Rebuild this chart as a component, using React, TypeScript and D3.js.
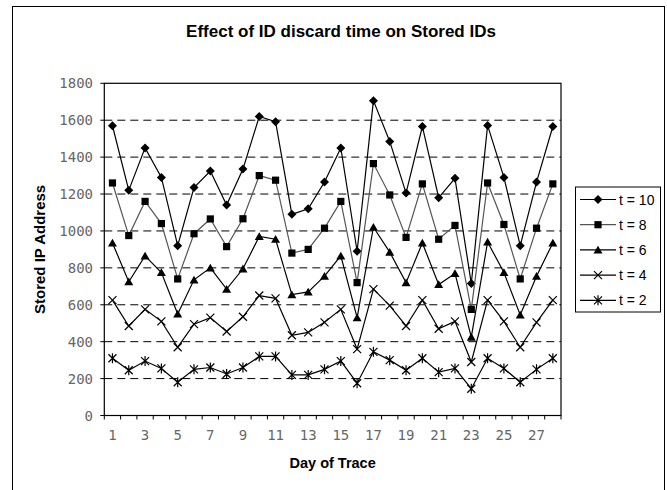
import { useEffect, useRef } from 'react'
import * as d3 from 'd3'

const days = d3.range(1, 29)
const yTicks = [0, 200, 400, 600, 800, 1000, 1200, 1400, 1600, 1800]
const seriesNames = ['t = 10', 't = 8', 't = 6', 't = 4', 't = 2']

const t10 = [1570, 1220, 1450, 1290, 920, 1235, 1325, 1140, 1335, 1620, 1592, 1090, 1120, 1265,
  1450, 890, 1706, 1485, 1205, 1566, 1180, 1285, 715, 1572, 1290, 920, 1265, 1566]
const t8 = [1260, 975, 1160, 1040, 740, 985, 1065, 915, 1066, 1300, 1275, 880, 900, 1015,
  1160, 720, 1365, 1195, 965, 1255, 955, 1030, 575, 1260, 1035, 740, 1015, 1255]
const t6 = [935, 725, 865, 775, 550, 735, 800, 685, 795, 970, 955, 655, 670, 755,
  865, 530, 1020, 885, 720, 935, 710, 770, 425, 940, 775, 545, 755, 935]
const t4 = [625, 485, 575, 510, 370, 495, 530, 455, 535, 650, 635, 435, 450, 505,
  575, 360, 685, 595, 485, 625, 470, 510, 290, 625, 510, 370, 505, 625]
const t2 = [310, 245, 295, 255, 180, 250, 260, 225, 260, 320, 320, 220, 220, 250,
  295, 175, 345, 300, 245, 310, 235, 255, 145, 310, 255, 180, 250, 310]

const seriesValues = [t10, t8, t6, t4, t2]
const lineColors = ['#000', '#555', '#000', '#000', '#000']

// marker shapes, drawn around the point
const markers = [
  { d: 'M0,-4.5L4.5,0L0,4.5L-4.5,0Z', fill: '#000', stroke: 'none' },
  { d: 'M-3.6,-3.6H3.6V3.6H-3.6Z', fill: '#000', stroke: 'none' },
  { d: 'M0,-4.2L4.5,3.6H-4.5Z', fill: '#000', stroke: 'none' },
  { d: 'M-4,-4L4,4M-4,4L4,-4', fill: 'none', stroke: '#000' },
  { d: 'M-4,-4L4,4M-4,4L4,-4M0,-5V5', fill: 'none', stroke: '#000' },
]

const W = 667
const H = 490

export default function App() {
  const svgRef = useRef<SVGSVGElement>(null)

  useEffect(() => {
    if (!svgRef.current) return
    const svg = d3.select(svgRef.current)
    svg.selectAll('*').remove()

    const plot = { left: 104.3, right: 561, top: 83.3, bottom: 415.5 }

    const x = d3.scaleBand<number>()
      .domain(days)
      .range([plot.left, plot.right])
      .padding(0)
    const y = d3.scaleLinear()
      .domain([0, 1800])
      .range([plot.bottom, plot.top])
    const cx = (d: number) => (x(d) ?? 0) + x.bandwidth() / 2

    // outer chart frame
    svg.append('rect')
      .attr('x', 12.5).attr('y', 6.5)
      .attr('width', 652).attr('height', 520)
      .attr('fill', '#fff')
      .attr('stroke', '#000')
      .attr('stroke-width', 1)

    svg.append('text')
      .attr('x', 341)
      .attr('y', 36.5)
      .attr('text-anchor', 'middle')
      .attr('font-family', 'Liberation Sans, Arial, sans-serif')
      .attr('font-weight', 'bold')
      .attr('font-size', '17px')
      .text('Effect of ID discard time on Stored IDs')

    // gridlines
    svg.append('g')
      .selectAll('line')
      .data(yTicks.filter(v => v > 0 && v < 1800))
      .enter()
      .append('line')
      .attr('x1', plot.left).attr('x2', plot.right)
      .attr('y1', d => y(d)).attr('y2', d => y(d))
      .attr('stroke', '#000')
      .attr('stroke-width', 1)
      .attr('stroke-dasharray', '8,5')

    // plot border
    svg.append('rect')
      .attr('x', plot.left).attr('y', plot.top)
      .attr('width', plot.right - plot.left)
      .attr('height', plot.bottom - plot.top)
      .attr('fill', 'none')
      .attr('stroke', '#000')
      .attr('stroke-width', 1.2)

    // y axis
    const yAxis = svg.append('g')
    yAxis.selectAll('line')
      .data(yTicks)
      .enter()
      .append('line')
      .attr('x1', plot.left - 4).attr('x2', plot.left)
      .attr('y1', d => y(d)).attr('y2', d => y(d))
      .attr('stroke', '#000')
    yAxis.selectAll('text')
      .data(yTicks)
      .enter()
      .append('text')
      .attr('x', 93)
      .attr('y', d => y(d))
      .attr('dy', '0.36em')
      .attr('text-anchor', 'end')
      .attr('font-family', 'DejaVu Sans Mono, monospace')
      .attr('font-size', '14px')
      .attr('fill', '#666')
      .text(d => String(d))

    // x axis
    const xAxis = svg.append('g')
    xAxis.selectAll('line')
      .data(d3.range(days.length + 1))
      .enter()
      .append('line')
      .attr('x1', i => plot.left + i * x.bandwidth())
      .attr('x2', i => plot.left + i * x.bandwidth())
      .attr('y1', plot.bottom).attr('y2', plot.bottom + 4)
      .attr('stroke', '#000')
    xAxis.selectAll('text')
      .data(days.filter(d => d % 2 === 1))
      .enter()
      .append('text')
      .attr('x', d => cx(d))
      .attr('y', 440)
      .attr('text-anchor', 'middle')
      .attr('font-family', 'DejaVu Sans Mono, monospace')
      .attr('font-size', '14px')
      .attr('fill', '#666')
      .text(d => String(d))

    svg.append('text')
      .attr('x', (plot.left + plot.right) / 2)
      .attr('y', 468)
      .attr('text-anchor', 'middle')
      .attr('font-family', 'Liberation Sans, Arial, sans-serif')
      .attr('font-weight', 'bold')
      .attr('font-size', '14.5px')
      .text('Day of Trace')

    svg.append('text')
      .attr('transform', `translate(45,${(plot.top + plot.bottom) / 2}) rotate(-90)`)
      .attr('text-anchor', 'middle')
      .attr('font-family', 'Liberation Sans, Arial, sans-serif')
      .attr('font-weight', 'bold')
      .attr('font-size', '15px')
      .text('Stored IP Address')

    // series lines and markers
    const line = d3.line<number>()
      .x((_, i) => cx(days[i]))
      .y(v => y(v))

    seriesValues.forEach((vals, s) => {
      svg.append('path')
        .datum(vals)
        .attr('d', line)
        .attr('fill', 'none')
        .attr('stroke', lineColors[s])
        .attr('stroke-width', 1.2)

      svg.append('g')
        .selectAll('path')
        .data(vals)
        .enter()
        .append('path')
        .attr('transform', (v, i) => `translate(${cx(days[i])},${y(v)})`)
        .attr('d', markers[s].d)
        .attr('fill', markers[s].fill)
        .attr('stroke', markers[s].stroke)
        .attr('stroke-width', 1.2)
    })

    // legend
    const legend = svg.append('g')
    legend.append('rect')
      .attr('x', 575.5).attr('y', 187)
      .attr('width', 85).attr('height', 125)
      .attr('fill', '#fff')
      .attr('stroke', '#000')
      .attr('stroke-width', 1)

    seriesNames.forEach((name, s) => {
      const ly = 199.5 + s * 25.2
      legend.append('line')
        .attr('x1', 580).attr('x2', 616)
        .attr('y1', ly).attr('y2', ly)
        .attr('stroke', lineColors[s])
        .attr('stroke-width', 1.2)
      legend.append('path')
        .attr('transform', `translate(598,${ly})`)
        .attr('d', markers[s].d)
        .attr('fill', markers[s].fill)
        .attr('stroke', markers[s].stroke)
        .attr('stroke-width', 1.2)
      legend.append('text')
        .attr('x', 619)
        .attr('y', ly)
        .attr('dy', '0.36em')
        .attr('font-family', 'Liberation Sans, Arial, sans-serif')
        .attr('font-size', '14px')
        .text(name)
    })
  }, [])

  return (
    <div style={{ position: 'fixed', left: 0, top: 0 }}>
      <svg ref={svgRef} width={W} height={H} style={{ display: 'block', background: '#fff' }} />
    </div>
  )
}
